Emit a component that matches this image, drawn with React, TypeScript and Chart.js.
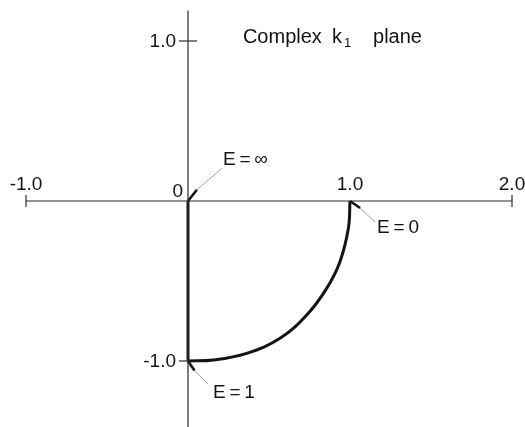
import React, { useEffect, useRef } from "react";
import { Chart, registerables } from "chart.js";

Chart.register(...registerables);

// Locus of k1 in the complex plane as E runs from 0 to 1 (arc) and then to infinity (imaginary axis)
const arcRe = [1.0, 0.99, 0.938, 0.856, 0.733, 0.568, 0.362, 0.156, 0.0];
const arcIm = [0.0, -0.171, -0.379, -0.546, -0.7125, -0.858, -0.952, -0.994, -1.0];
const axisRe = [0.0, 0.0];
const axisIm = [-1.0, 0.0];

// Axis extents and tick values
const xAxisRange = [-1.0, 2.0];
const yAxisRange = [1.19, -1.45];
const xTickValues = [-1.0, 1.0, 2.0];
const xTickLabels = ["-1.0", "1.0", "2.0"];
const yTickValues = [1.0, -1.0];
const yTickLabels = ["1.0", "-1.0"];

// Markers on the locus
const markerLabels = ["E\u2009=\u2009\u221E", "E\u2009=\u20090", "E\u2009=\u20091"];
const markerRe = [0.0, 1.0, 0.0];
const markerIm = [0.0, 0.0, -1.0];

const W = 525;
const H = 427;
const INK = "#141414";
const FONT = "'Liberation Sans', Arial, sans-serif";

// pointer geometry: heavy stub then thin leader, then label anchor (data-space offsets)
const pointerStub = [
  [0.055, 0.07],
  [0.062, -0.044],
  [0.04, -0.06],
];
const pointerTail = [
  [0.21, 0.205],
  [0.154, -0.131],
  [0.12, -0.14],
];
const labelAt = [
  [0.216, 0.225],
  [1.167, -0.2],
  [0.154, -1.23],
];

const pts = (xs: number[], ys: number[]) => xs.map((x, i) => ({ x, y: ys[i] }));

export default function App() {
  const ref = useRef<HTMLCanvasElement | null>(null);

  useEffect(() => {
    if (!ref.current) return;

    const line = (data: { x: number; y: number }[], width: number, color = INK, tension = 0) => ({
      data,
      showLine: true,
      borderColor: color,
      borderWidth: width,
      pointRadius: 0,
      tension,
      fill: false,
    });

    const datasets: any[] = [
      // coordinate axes
      line(pts(xAxisRange, [0, 0]), 1.2, "#2a2a2a"),
      line(pts([0, 0], yAxisRange), 1.2, "#2a2a2a"),
      // locus
      line(pts(arcRe, arcIm), 3, INK, 0.4),
      line(pts(axisRe, axisIm), 3),
    ];

    markerRe.forEach((re, i) => {
      const im = markerIm[i];
      const s = { x: re + pointerStub[i][0], y: im + pointerStub[i][1] };
      datasets.push(line([{ x: re, y: im }, s], 2.6));
      datasets.push(
        line([s, { x: re + pointerTail[i][0], y: im + pointerTail[i][1] }], 0.8, "#8a8a8a")
      );
    });

    const annotate = {
      id: "annotate",
      beforeDraw(chart: any) {
        const c = chart.ctx;
        c.save();
        c.fillStyle = "#ffffff";
        c.fillRect(0, 0, chart.width, chart.height);
        c.restore();
      },
      afterDatasetsDraw(chart: any) {
        const c = chart.ctx as CanvasRenderingContext2D;
        const xs = chart.scales.x;
        const ys = chart.scales.y;
        const ox = xs.getPixelForValue(0);
        const oy = ys.getPixelForValue(0);
        c.save();
        c.strokeStyle = "#2a2a2a";
        c.fillStyle = INK;
        c.lineWidth = 1.2;

        // x ticks
        c.font = `19px ${FONT}`;
        xTickValues.forEach((v, i) => {
          const px = xs.getPixelForValue(v);
          if (v !== 1.0) {
            c.beginPath();
            c.moveTo(px, oy - 6);
            c.lineTo(px, oy + 6);
            c.stroke();
          }
          c.textAlign = "center";
          c.textBaseline = "alphabetic";
          c.fillText(xTickLabels[i], px, oy - 11);
        });

        // y ticks
        yTickValues.forEach((v, i) => {
          const py = ys.getPixelForValue(v);
          c.beginPath();
          c.moveTo(ox - 9, py);
          c.lineTo(ox + (v > 0 ? 9 : 0), py);
          c.stroke();
          c.textAlign = "right";
          c.textBaseline = "middle";
          c.fillText(yTickLabels[i], ox - 12, py + 1);
        });

        // origin
        c.textAlign = "right";
        c.textBaseline = "alphabetic";
        c.fillText("0", ox - 5, oy - 4);

        // marker labels
        c.textAlign = "left";
        markerLabels.forEach((t, i) => {
          c.fillText(t, xs.getPixelForValue(labelAt[i][0]), ys.getPixelForValue(labelAt[i][1]));
        });

        // title: Complex k1 plane
        c.font = `20px ${FONT}`;
        const tx = xs.getPixelForValue(0.339);
        const ty = ys.getPixelForValue(0.985);
        c.fillText("Complex", tx, ty);
        const kx = xs.getPixelForValue(0.889);
        c.fillText("k", kx, ty);
        c.font = `13px ${FONT}`;
        c.fillText("1", kx + 12, ty + 4);
        c.font = `20px ${FONT}`;
        c.fillText("plane", xs.getPixelForValue(1.142), ty);
        c.restore();
      },
    };

    const chart = new Chart(ref.current, {
      type: "scatter",
      data: { datasets },
      options: {
        responsive: false,
        animation: false,
        layout: { padding: 0, autoPadding: false } as any,
        plugins: { legend: { display: false }, tooltip: { enabled: false } },
        scales: {
          x: { type: "linear", display: false, min: -188 / 162, max: (W - 188) / 162 },
          y: { type: "linear", display: false, min: (201 - H) / 160, max: 201 / 160 },
        },
      },
      plugins: [annotate],
    });

    return () => chart.destroy();
  }, []);

  return (
    <div style={{ position: "fixed", left: 0, top: 0, width: W, height: H, background: "#fff" }}>
      <canvas ref={ref} width={W} height={H} style={{ width: W, height: H, display: "block" }} />
    </div>
  );
}
